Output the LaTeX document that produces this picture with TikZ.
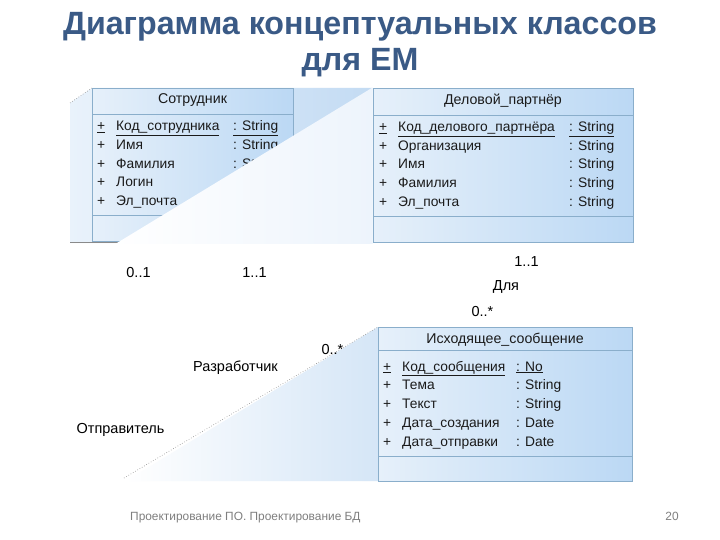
\documentclass[tikz,border=0pt]{standalone}
\usepackage{fontspec}
\setmainfont{Liberation Sans}
\definecolor{titleblue}{HTML}{3A5A86}
\definecolor{boxline}{HTML}{8AAECB}
\definecolor{boxL}{HTML}{E6F0FA}
\definecolor{boxR}{HTML}{BBD8F4}
\definecolor{regL}{HTML}{E9F2FB}
\definecolor{regR}{HTML}{C3DBF3}
\definecolor{ovR}{HTML}{EDF4FC}
\definecolor{edgegray}{HTML}{8A8A8A}
\definecolor{footgray}{HTML}{7F7F7F}
\definecolor{txt}{HTML}{1A1A1A}
\begin{document}
\begin{tikzpicture}[x=1pt,y=-1pt,
  umlbox/.style={draw=boxline, line width=0.8pt, left color=boxL, right color=boxR, inner sep=0pt, anchor=north west},
  sepline/.style={draw=boxline, line width=0.8pt},
  hdr/.style={font=\fontsize{14.2}{16}\selectfont, text=txt, inner sep=0pt, anchor=base},
  attr/.style={font=\fontsize{13.8}{16}\selectfont, text=txt, inner sep=0pt, anchor=base west},
  lbl/.style={font=\fontsize{14.5}{16}\selectfont, text=black, inner sep=0pt, anchor=base},
  ttl/.style={font=\fontsize{32.2}{36}\selectfont\bfseries, text=titleblue, inner sep=0pt, anchor=base},
  foot/.style={font=\fontsize{11.9}{13}\selectfont, text=footgray, inner sep=0pt, anchor=base west}
]
\useasboundingbox (0,0) rectangle (720,540);
\fill[white] (0,0) rectangle (720,540);

% title
\node[ttl] (t1) at (360,35) {Диаграмма концептуальных классов};
\node[ttl] (t2) at (360,71) {для ЕМ};

% top region background
\shade[left color=regL, right color=regR] (70,103) -- (92,88) -- (372,88) -- (372,243) -- (70,243) -- cycle;
\draw[edgegray, line width=0.6pt] (70,242) -- (372,242);
\coordinate (tl) at (70,103);

% Сотрудник
\node[umlbox, minimum width=201pt, minimum height=153pt] (sot) at (92,88) {};
\draw[edgegray, dotted, line width=0.6pt] (tl) -- (sot.north west);
\draw[sepline] (92,114) -- (293,114);
\draw[sepline] (92,215) -- (293,215);
\node[hdr] (sotn) at (192.5,104) {Сотрудник};
\node[attr] (s1p) at (97,131) {\underline{+}};
\node[attr] (s1n) at (116,131) {\underline{Код\_сотрудника}};
\node[attr] (s1t) at (233,131) {\underline{: String}};
\node[attr] (s2p) at (97,150) {+};
\node[attr] (s2n) at (116,150) {Имя};
\node[attr] (s2t) at (233,150) {: String};
\node[attr] (s3p) at (97,169) {+};
\node[attr] (s3n) at (116,169) {Фамилия};
\node[attr] (s3t) at (233,169) {: String};
\node[attr] (s4p) at (97,187) {+};
\node[attr] (s4n) at (116,187) {Логин};
\node[attr] (s5p) at (97,206) {+};
\node[attr] (s5n) at (116,206) {Эл\_почта};

% white overlay
\shade[left color=white, right color=ovR] (372.6,87.5) -- (372.6,248) -- (112,246) -- cycle;
\fill[white] (60,243.5) rectangle (372.6,250);

% Деловой_партнёр
\node[umlbox, minimum width=260pt, minimum height=154pt] (del) at (373,88) {};
\draw[sepline] (373,115) -- (633,115);
\draw[sepline] (373,216) -- (633,216);
\node[hdr] (deln) at (503,105) {Деловой\_партнёр};
\node[attr] (d1p) at (379,132) {\underline{+}};
\node[attr] (d1n) at (398,132) {\underline{Код\_делового\_партнёра}};
\node[attr] (d1t) at (569,132) {\underline{: String}};
\node[attr] (d2p) at (379,151) {+};
\node[attr] (d2n) at (398,151) {Организация};
\node[attr] (d2t) at (569,151) {: String};
\node[attr] (d3p) at (379,169) {+};
\node[attr] (d3n) at (398,169) {Имя};
\node[attr] (d3t) at (569,169) {: String};
\node[attr] (d4p) at (379,188) {+};
\node[attr] (d4n) at (398,188) {Фамилия};
\node[attr] (d4t) at (569,188) {: String};
\node[attr] (d5p) at (379,207) {+};
\node[attr] (d5n) at (398,207) {Эл\_почта};
\node[attr] (d5t) at (569,207) {: String};

% bottom shaded triangle
\shade[left color=white, right color=regR!70] (126,481) -- (378,327) -- (378,481) -- cycle;
\coordinate (lo) at (124,478);

% Исходящее_сообщение
\node[umlbox, minimum width=254pt, minimum height=154pt] (ish) at (378,327) {};
\draw[edgegray, dotted, line width=0.6pt] (lo) -- (ish.north west);
\draw[sepline] (378,350) -- (632,350);
\draw[sepline] (378,456) -- (632,456);
\node[hdr] (ishn) at (505,343) {Исходящее\_сообщение};
\node[attr] (i1p) at (383,371) {\underline{+}};
\node[attr] (i1n) at (402,371) {\underline{Код\_сообщения}};
\node[attr] (i1t) at (516,371) {\underline{: No}};
\node[attr] (i2p) at (383,389) {+};
\node[attr] (i2n) at (402,389) {Тема};
\node[attr] (i2t) at (516,389) {: String};
\node[attr] (i3p) at (383,408) {+};
\node[attr] (i3n) at (402,408) {Текст};
\node[attr] (i3t) at (516,408) {: String};
\node[attr] (i4p) at (383,427) {+};
\node[attr] (i4n) at (402,427) {Дата\_создания};
\node[attr] (i4t) at (516,427) {: Date};
\node[attr] (i5p) at (383,446) {+};
\node[attr] (i5n) at (402,446) {Дата\_отправки};
\node[attr] (i5t) at (516,446) {: Date};

% multiplicities and role labels
\node[lbl] (m1) at (138.5,277) {0..1};
\node[lbl] (m2) at (254.5,277) {1..1};
\node[lbl] (m3) at (526.5,266) {1..1};
\node[lbl] (r1) at (506,290) {Для};
\node[lbl] (m4) at (482.5,316) {0..*};
\node[lbl] (m5) at (332.5,354) {0..*};
\node[lbl] (r2) at (235.5,371) {Разработчик};
\node[lbl] (r3) at (120.5,433) {Отправитель};

% footer
\node[foot] (ft) at (130,520) {Проектирование ПО. Проектирование БД};
\node[foot, anchor=base] (pg) at (672,520) {20};
\end{tikzpicture}
\end{document}
